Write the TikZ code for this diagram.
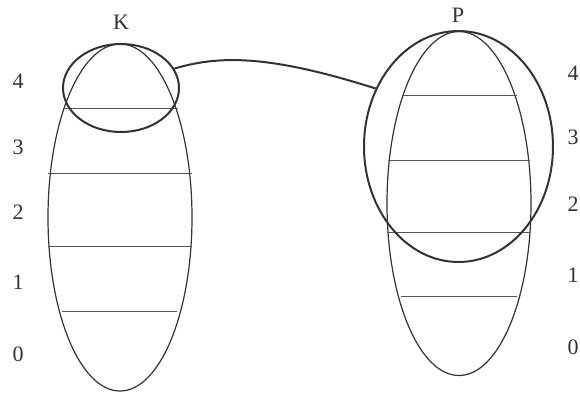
\documentclass[tikz,border=0pt]{standalone}
\usepackage{fontspec}
\setmainfont{Liberation Serif}
\usetikzlibrary{shapes.geometric}
\definecolor{ink}{HTML}{333333}
\definecolor{rung}{HTML}{555555}
\begin{document}
\begin{tikzpicture}[x=0.5pt,y=-0.5pt,
  tallell/.style={ellipse,draw=ink,line width=0.6pt,inner sep=0pt,minimum width=72pt},
  ring/.style={ellipse,draw=ink,line width=1pt,inner sep=0pt},
  rungline/.style={draw=rung,line width=0.5pt},
  lbl/.style={text=ink,font=\fontsize{11}{13}\selectfont,inner sep=0pt},
  link/.style={draw=ink,line width=1pt}]
\useasboundingbox (0,0) rectangle (580,396);
% left tall ellipse K
\node[tallell,minimum height=173.5pt] (Kell) at (120,217.5) {};
\draw[rungline] (63,108.7) -- (178,108.7);
\draw[rungline] (48,173.7) -- (192,173.7);
\draw[rungline] (48,246) -- (192,246);
\draw[rungline] (62,311) -- (177,311);
\node[ring,minimum width=58pt,minimum height=44pt] (Kring) at (121,88) {};
% right tall ellipse P
\node[tallell,minimum height=172pt] (Pell) at (459,203.5) {};
\draw[rungline] (401.5,95) -- (516.5,95);
\draw[rungline] (388,160) -- (530,160);
\draw[rungline] (387,232) -- (530,232);
\draw[rungline] (401,296.7) -- (517,296.7);
\node[ring,minimum width=94.5pt,minimum height=115.5pt] (Pring) at (458.5,146.5) {};
% connector
\draw[link] (Kring.20.6) .. controls (220,55) and (270,55) .. (Pring.145.5);
% labels
\node[lbl] (K) at (121,22) {K};
\node[lbl] (P) at (458,15) {P};
\node[lbl] (l4) at (18,81) {4};
\node[lbl] (l3) at (18,147) {3};
\node[lbl] (l2) at (18,212) {2};
\node[lbl] (l1) at (18,282) {1};
\node[lbl] (l0) at (18,354) {0};
\node[lbl] (r4) at (573,73) {4};
\node[lbl] (r3) at (573,137) {3};
\node[lbl] (r2) at (573,204) {2};
\node[lbl] (r1) at (573,275) {1};
\node[lbl] (r0) at (573,347) {0};
\end{tikzpicture}
\end{document}
